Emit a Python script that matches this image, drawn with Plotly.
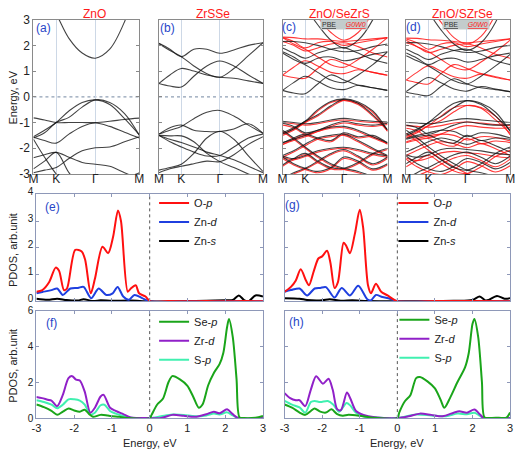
import plotly.graph_objects as go

W, H = 522, 455
FONT = "Liberation Sans, Arial, sans-serif"

# ---------------- band-structure data ----------------
k_path = [0, 0.105, 0.215, 0.335, 0.46, 0.585, 0.72, 0.86, 1.0]
k_ticks = [0, 0.215, 0.585, 1.0]
k_labels = ["M", "K", "Γ", "M"]
band_titles = ["ZnO", "ZrSSe", "ZnO/SeZrS", "ZnO/SZrSe"]
e_ticks = [-3, -2, -1, 0, 1, 2, 3]
e_tick_text = ["-3", "-2", "-1", "0", "1", "2", "3"]

zno_bands = [
    [4.8, 4.0, 3.22, 2.27, 1.7, 1.5, 1.85, 2.92, 4.7],
    [-1.55, -1.3, -1.0, -0.55, -0.22, -0.12, -0.3, -0.85, -1.48],
    [-1.6, -1.4, -1.0, -0.8, -0.4, -0.12, -0.22, -0.65, -1.5],
    [-0.82, -0.9, -1.0, -1.0, -1.0, -1.0, -0.95, -0.88, -0.83],
    [-1.57, -1.7, -1.8, -1.45, -1.15, -1.02, -1.15, -1.38, -1.6],
    [-2.95, -2.85, -2.75, -2.4, -2.1, -1.98, -1.95, -1.75, -1.55],
    [-2.37, -2.25, -2.16, -2.35, -2.55, -2.62, -2.7, -2.95, -3.2],
    [-1.65, -2.35, -3.0, -3.5, -3.8, -3.9, -3.8, -3.5, -3.0],
    [-2.8, -2.5, -2.16, -2.95, -3.5, -3.7, -3.5, -3.2, -2.95],
]

zrsse_bands = [
    [0.52, 0.42, 0.38, 0.8, 1.2, 1.39, 1.2, 0.85, 0.52],
    [0.52, 0.85, 1.1, 1.0, 0.85, 0.76, 0.72, 0.62, 0.52],
    [2.06, 1.8, 1.56, 1.2, 0.9, 0.76, 1.1, 1.6, 2.1],
    [2.08, 1.85, 1.56, 1.85, 1.85, 1.69, 1.82, 2.0, 2.1],
    [-1.45, -1.3, -1.15, -0.85, -0.6, -0.53, -0.75, -1.1, -1.42],
    [-1.45, -1.2, -1.1, -1.3, -1.35, -1.35, -1.25, -1.05, -1.42],
    [-1.5, -1.65, -1.78, -1.95, -2.15, -2.28, -2.45, -2.7, -2.95],
    [-2.95, -2.8, -2.7, -2.6, -2.5, -2.52, -2.25, -1.85, -1.55],
    [-1.5, -1.75, -1.95, -2.15, -2.3, -2.28, -1.95, -1.6, -1.45],
    [-1.5, -1.52, -1.52, -1.75, -2.2, -2.52, -2.75, -3.0, -3.2],
    [-2.85, -2.75, -2.62, -2.2, -1.6, -1.34, -1.65, -2.3, -2.9],
]

c_pbe_bands = [
    [0.25, 0.15, 0.12, 0.5, 0.85, 0.65, 0.45, 0.35, 0.25],
    [0.25, 0.55, 0.8, 0.6, 0.35, 0.28, 0.45, 0.35, 0.25],
    [1.7, 1.45, 1.25, 0.95, 0.65, 0.55, 0.85, 1.25, 1.75],
    [1.75, 1.55, 1.3, 1.5, 1.55, 1.4, 1.5, 1.65, 1.75],
    [5.0, 4.2, 3.5, 2.8, 2.2, 1.9, 2.2, 3.0, 4.4],
    [2.15, 2.15, 2.1, 2.0, 1.85, 1.75, 1.8, 1.95, 2.05],
    [1.9, 1.7, 1.5, 1.7, 1.85, 1.9, 1.7, 1.45, 1.3],
    [-1.4, -1.2, -0.95, -0.5, -0.18, -0.09, -0.25, -0.7, -1.28],
    [-1.45, -1.25, -0.95, -0.7, -0.35, -0.09, -0.2, -0.55, -1.3],
    [-0.95, -1.0, -1.05, -1.0, -0.9, -0.84, -0.9, -0.95, -0.98],
    [-1.03, -1.15, -1.4, -1.3, -1.1, -0.96, -1.05, -1.1, -1.03],
    [-1.78, -1.65, -1.5, -1.3, -1.18, -1.15, -1.3, -1.55, -1.78],
    [-1.8, -1.6, -1.45, -1.6, -1.7, -1.4, -1.55, -1.5, -1.8],
    [-2.28, -2.1, -1.84, -1.6, -1.5, -1.45, -1.7, -2.0, -2.28],
    [-2.3, -2.4, -2.28, -2.1, -2.0, -1.96, -2.05, -2.2, -2.3],
    [-2.34, -2.6, -2.78, -2.9, -2.75, -2.34, -2.5, -2.8, -2.6],
    [-2.65, -2.4, -2.2, -2.5, -2.75, -2.78, -2.55, -2.2, -2.0],
    [-1.3, -1.6, -1.95, -2.3, -2.6, -2.78, -2.9, -3.1, -3.2],
    [-3.2, -2.95, -2.78, -2.5, -2.2, -2.05, -2.3, -2.6, -2.34],
]

c_g0w0_bands = [
    [0.84, 0.75, 0.72, 1.1, 1.45, 1.3, 1.1, 0.95, 0.84],
    [0.84, 1.15, 1.4, 1.2, 0.95, 0.9, 1.05, 0.95, 0.84],
    [2.3, 2.05, 1.85, 1.55, 1.25, 1.15, 1.45, 1.85, 2.3],
    [2.3, 2.15, 1.9, 2.1, 2.15, 2.0, 2.1, 2.2, 2.3],
    [5.3, 4.5, 3.8, 3.1, 2.5, 2.2, 2.5, 3.3, 4.7],
    [2.32, 2.3, 2.25, 2.25, 2.2, 2.15, 2.2, 2.25, 2.3],
    [2.15, 2.0, 1.78, 1.9, 2.05, 2.1, 1.95, 1.7, 1.55],
    [-1.45, -1.25, -1.0, -0.55, -0.22, -0.14, -0.3, -0.75, -1.32],
    [-1.5, -1.3, -1.0, -0.75, -0.4, -0.14, -0.25, -0.6, -1.35],
    [-1.0, -1.05, -1.1, -1.05, -0.95, -0.9, -0.95, -1.0, -1.02],
    [-1.1, -1.2, -1.45, -1.35, -1.15, -1.02, -1.1, -1.15, -1.08],
    [-1.85, -1.7, -1.55, -1.35, -1.22, -1.2, -1.35, -1.6, -1.82],
    [-1.85, -1.65, -1.5, -1.65, -1.75, -1.45, -1.6, -1.55, -1.85],
    [-2.35, -2.15, -1.9, -1.65, -1.55, -1.5, -1.75, -2.05, -2.32],
    [-2.35, -2.45, -2.32, -2.15, -2.05, -2.0, -2.1, -2.25, -2.35],
    [-2.4, -2.65, -2.82, -2.95, -2.8, -2.4, -2.55, -2.85, -2.65],
    [-2.7, -2.45, -2.25, -2.55, -2.8, -2.82, -2.6, -2.25, -2.05],
    [-1.35, -1.65, -2.0, -2.35, -2.65, -2.82, -2.95, -3.15, -3.25],
    [-3.25, -3.0, -2.82, -2.55, -2.25, -2.1, -2.35, -2.65, -2.4],
]

d_pbe_bands = [
    [0.18, 0.1, 0.05, 0.4, 0.7, 0.5, 0.35, 0.28, 0.2],
    [0.2, 0.5, 0.75, 0.55, 0.3, 0.22, 0.4, 0.3, 0.2],
    [1.6, 1.4, 1.2, 0.9, 0.62, 0.5, 0.8, 1.2, 1.65],
    [1.7, 1.5, 1.25, 1.45, 1.5, 1.35, 1.45, 1.6, 1.7],
    [4.8, 4.0, 3.3, 2.6, 2.05, 1.8, 2.1, 2.9, 4.3],
    [2.1, 2.1, 2.05, 1.95, 1.8, 1.72, 1.78, 1.92, 2.0],
    [1.85, 1.65, 1.45, 1.65, 1.8, 1.85, 1.65, 1.4, 1.25],
    [-1.45, -1.25, -1.0, -0.6, -0.25, -0.15, -0.3, -0.75, -1.3],
    [-1.5, -1.3, -1.0, -0.78, -0.42, -0.15, -0.25, -0.6, -1.35],
    [-1.0, -1.02, -1.05, -1.0, -0.9, -0.85, -0.9, -0.95, -1.0],
    [-1.1, -1.2, -1.45, -1.3, -1.1, -0.98, -1.05, -1.1, -1.08],
    [-1.62, -1.5, -1.4, -1.3, -1.35, -1.55, -1.4, -1.45, -1.6],
    [-1.65, -1.55, -1.5, -1.7, -1.8, -1.5, -1.7, -1.6, -1.65],
    [-2.15, -1.95, -1.75, -1.6, -1.7, -1.85, -1.7, -1.9, -2.15],
    [-2.25, -2.35, -2.25, -2.05, -2.0, -2.05, -2.1, -2.2, -2.25],
    [-2.3, -2.6, -2.8, -2.9, -2.7, -2.4, -2.55, -2.8, -2.55],
    [-2.6, -2.35, -2.15, -2.45, -2.75, -2.85, -2.6, -2.2, -1.95],
    [-1.3, -1.6, -1.95, -2.3, -2.6, -2.85, -2.95, -3.1, -3.2],
    [-3.2, -2.95, -2.75, -2.5, -2.25, -2.15, -2.35, -2.6, -2.3],
]

d_g0w0_bands = [
    [0.65, 0.55, 0.5, 0.9, 1.25, 1.1, 0.9, 0.75, 0.65],
    [0.65, 0.95, 1.2, 1.0, 0.78, 0.72, 0.88, 0.78, 0.65],
    [2.2, 1.95, 1.75, 1.45, 1.15, 1.05, 1.35, 1.75, 2.2],
    [2.25, 2.1, 1.85, 2.05, 2.1, 1.95, 2.05, 2.15, 2.25],
    [5.1, 4.3, 3.6, 2.9, 2.3, 2.05, 2.35, 3.2, 4.6],
    [2.28, 2.27, 2.22, 2.2, 2.15, 2.1, 2.15, 2.2, 2.25],
    [2.1, 1.95, 1.72, 1.85, 2.0, 2.05, 1.9, 1.65, 1.5],
    [-1.55, -1.35, -1.12, -0.75, -0.42, -0.34, -0.45, -0.9, -1.42],
    [-1.6, -1.4, -1.12, -0.92, -0.58, -0.34, -0.42, -0.75, -1.48],
    [-1.12, -1.15, -1.18, -1.12, -1.02, -0.98, -1.02, -1.08, -1.12],
    [-1.22, -1.32, -1.58, -1.45, -1.25, -1.12, -1.18, -1.22, -1.2],
    [-1.75, -1.62, -1.52, -1.45, -1.5, -1.68, -1.55, -1.58, -1.72],
    [-1.78, -1.68, -1.62, -1.82, -1.92, -1.62, -1.82, -1.72, -1.78],
    [-2.28, -2.08, -1.88, -1.75, -1.82, -1.98, -1.82, -2.02, -2.28],
    [-2.38, -2.48, -2.38, -2.18, -2.12, -2.18, -2.22, -2.32, -2.38],
    [-2.42, -2.72, -2.92, -3.02, -2.82, -2.52, -2.68, -2.92, -2.68],
    [-2.72, -2.48, -2.28, -2.58, -2.88, -2.98, -2.72, -2.32, -2.08],
    [-1.42, -1.72, -2.08, -2.42, -2.72, -2.98, -3.08, -3.22, -3.32],
    [-3.32, -3.08, -2.88, -2.62, -2.38, -2.28, -2.48, -2.72, -2.42],
]

# ---------------- PDOS data ----------------
pdos_ticks = [-3, -2, -1, 0, 1, 2, 3]
pdos_tick_text = ["-3", "-2", "-1", "0", "1", "2", "3"]

e_op_x = [-3, -2.84, -2.66, -2.49, -2.4, -2.27, -2.19, -1.97, -1.8, -1.71, -1.56, -1.45, -1.25, -1.1, -0.97,
          -0.84, -0.76, -0.58, -0.5, -0.37, -0.28, -0.11, 0.02, 0.5, 1.0, 1.5, 2.0, 2.5, 3.0]
e_op_y = [0.36, 0.42, 0.72, 1.26, 1.14, 0.42, 0.48, 1.92, 1.86, 1.56, 0.3, 0.84, 2.04, 1.8, 2.4,
          3.39, 3.0, 0.36, 0.48, 0.6, 0.3, 0.18, 0.0, 0.01, 0.0, 0.01, 0.0, 0.01, 0.0]
e_znd_x = [-3, -2.84, -2.6, -2.45, -2.3, -2.1, -1.9, -1.75, -1.55, -1.35, -1.15, -0.98, -0.85, -0.7,
           -0.55, -0.4, -0.2, 0, 1, 2, 3]
e_znd_y = [0.3, 0.35, 0.42, 0.48, 0.24, 0.48, 0.5, 0.54, 0.12, 0.48, 0.24, 0.3, 0.54, 0.18,
           0.06, 0.24, 0.12, 0, 0, 0, 0]
e_zns_x = [-3, -2.7, -2.45, -2.2, -1.9, -1.75, -1.5, -1.3, -1.0, -0.5, 0, 1.0, 1.5, 2.0, 2.2, 2.36,
           2.5, 2.62, 2.8, 3.0]
e_zns_y = [0.1, 0.06, 0.1, 0.05, 0.03, 0.08, 0.01, 0.04, 0.02, 0.03, 0.0, 0.01, 0.02, 0.04, 0.05, 0.22,
           0.05, 0.0, 0.22, 0.18]

g_op_x = [-3, -2.83, -2.7, -2.57, -2.43, -2.35, -2.22, -2.1, -2.0, -1.87, -1.78, -1.67, -1.58, -1.43,
          -1.37, -1.26, -1.13, -1.0, -0.91, -0.78, -0.7, -0.57, -0.43, -0.26, -0.09, 0, 1, 2, 3]
g_op_y = [0.36, 0.54, 0.78, 1.2, 0.78, 0.6, 1.14, 1.6, 1.68, 1.89, 1.44, 0.5, 0.72, 2.19,
          2.1, 1.8, 2.52, 3.42, 2.76, 0.6, 0.3, 0.66, 0.36, 0.22, 0.06, 0, 0.01, 0.01, 0]
g_znd_x = [-3, -2.83, -2.6, -2.4, -2.2, -2.05, -1.9, -1.67, -1.48, -1.26, -1.04, -0.8, -0.7, -0.57,
           -0.4, -0.2, 0, 1, 2, 3]
g_znd_y = [0.36, 0.42, 0.48, 0.22, 0.48, 0.5, 0.53, 0.14, 0.5, 0.22, 0.58, 0.08, 0.04, 0.24,
           0.16, 0.1, 0, 0, 0, 0]
g_zns_x = [-3, -2.6, -2.4, -2.0, -1.8, -1.5, -1.2, -0.8, 0, 1.5, 2.0, 2.19, 2.35, 2.43, 2.65, 2.85, 3]
g_zns_y = [0.12, 0.1, 0.05, 0.04, 0.08, 0.02, 0.04, 0.01, 0, 0.02, 0.05, 0.18, 0.03, 0.05, 0.2, 0.1, 0.12]

f_sep_x = [-3, -2.8, -2.6, -2.45, -2.3, -2.15, -2.0, -1.85, -1.72, -1.6, -1.5, -1.3, -1.1, -0.8, -0.6,
           0.0, 0.05, 0.2, 0.35, 0.5, 0.6, 0.8, 1.0, 1.15, 1.3, 1.4, 1.55, 1.7, 1.85, 1.95, 2.05, 2.1,
           2.2, 2.3, 2.38, 2.5, 2.8, 3.0]
f_sep_y = [0.76, 0.61, 0.4, 0.18, 0.36, 0.54, 0.43, 0.36, 0.47, 0.22, 0.07, 0.18, 0.14, 0.07, 0.0,
           0.0, 0.18, 0.76, 1.08, 2.02, 2.35, 2.17, 1.81, 1.21, 0.58, 0.76, 1.84, 2.53, 3.02, 3.65, 5.1, 5.55,
           4.55, 2.2, 0.04, 0.0, 0.02, 0.12]
f_zrd_x = [-3, -2.85, -2.7, -2.6, -2.45, -2.3, -2.15, -2.05, -1.95, -1.85, -1.72, -1.57, -1.45, -1.3,
           -1.22, -1.05, -0.9, -0.7, -0.5, 0, 0.3, 0.6, 0.9, 1.2, 1.5, 1.7, 1.85, 2.05, 2.2, 2.35, 3]
f_zrd_y = [1.18, 1.12, 1.03, 0.98, 0.67, 1.3, 2.24, 2.35, 2.15, 2.11, 1.48, 0.3, 0.58, 1.21,
           1.3, 0.58, 0.4, 0.22, 0.04, 0, 0.0, 0.18, 0.13, 0.07, 0.22, 0.36, 0.27, 0.49, 0.22, 0, 0]
f_sp_x = [-3, -2.8, -2.6, -2.45, -2.3, -2.15, -2.0, -1.85, -1.72, -1.57, -1.45, -1.3, -1.2, -1.05, -0.9,
          -0.7, -0.5, 0, 0.3, 0.6, 0.9, 1.2, 1.5, 1.7, 1.85, 2.05, 2.2, 2.35, 3]
f_sp_y = [1.0, 0.9, 0.75, 0.55, 0.75, 1.05, 1.05, 0.98, 0.75, 0.2, 0.3, 0.72, 0.75, 0.4, 0.25,
          0.12, 0.02, 0, 0.1, 0.2, 0.18, 0.1, 0.15, 0.25, 0.2, 0.32, 0.15, 0, 0]

h_sep_x = [-3, -2.8, -2.6, -2.45, -2.3, -2.2, -2.05, -1.9, -1.75, -1.6, -1.45, -1.3, -1.0, -0.7, 0,
           0.05, 0.2, 0.35, 0.5, 0.6, 0.8, 1.0, 1.15, 1.25, 1.4, 1.6, 1.8, 1.9, 2.0, 2.05, 2.15, 2.25,
           2.32, 2.5, 2.7, 2.9, 3.0]
h_sep_y = [0.76, 0.58, 0.31, 0.18, 0.4, 0.54, 0.36, 0.31, 0.49, 0.22, 0.13, 0.18, 0.13, 0.04, 0,
           0.31, 0.94, 1.3, 2.24, 2.3, 2.06, 1.66, 1.03, 0.58, 1.12, 2.02, 2.84, 3.65, 5.28, 5.55, 4.55, 2.02,
           0.04, 0.01, 0.02, 0.02, 0.31]
h_zrd_x = [-3, -2.85, -2.7, -2.6, -2.45, -2.3, -2.16, -1.98, -1.83, -1.72, -1.6, -1.5, -1.34, -1.25,
           -1.1, -0.9, -0.6, 0, 0.3, 0.6, 0.9, 1.2, 1.5, 1.65, 1.85, 2.05, 2.2, 2.3, 3]
h_zrd_y = [1.4, 1.12, 1.0, 1.0, 0.67, 1.6, 2.35, 1.93, 2.2, 1.6, 0.5, 0.45, 1.43, 1.1,
           0.4, 0.18, 0.05, 0, 0.1, 0.25, 0.18, 0.1, 0.3, 0.38, 0.3, 0.48, 0.2, 0, 0]
h_sp_x = [-3, -2.8, -2.6, -2.45, -2.3, -2.2, -2.05, -1.85, -1.7, -1.55, -1.35, -1.25, -1.1, -0.9, -0.6,
          0, 0.5, 0.9, 1.3, 1.6, 1.85, 2.05, 2.2, 2.3, 3]
h_sp_y = [0.96, 0.75, 0.6, 0.3, 0.9, 0.96, 0.9, 0.96, 0.75, 0.35, 0.85, 0.7, 0.3, 0.1, 0.03,
          0, 0.2, 0.15, 0.1, 0.25, 0.22, 0.3, 0.12, 0, 0]

# ---------------- figure ----------------
fig = go.Figure()


def xd(a, b):
    return [a / W, b / W]


def yd(a, b):
    return [1 - b / H, 1 - a / H]


band_x = [(29, 137), (157, 263), (283, 390), (409, 515)]
band_y = (11, 171)
pdos_x = [(32, 263), (285, 515)]
pdos_y = [(192, 303), (313, 424)]

BLACK = "rgba(20,20,20,0.8)"
RED = "rgba(255,20,20,0.85)"
FRAME = "#8a8a8a"
PFRAME = "#8e98b8"

layout = dict(
    width=W, height=H, margin=dict(l=0, r=0, t=0, b=0),
    paper_bgcolor="white", plot_bgcolor="white",
    font=dict(family=FONT, size=11, color="#222"),
    showlegend=True,
)

# band axes 1..4
for i in range(4):
    n = i + 1
    xa = "xaxis" if n == 1 else f"xaxis{n}"
    ya = "yaxis" if n == 1 else f"yaxis{n}"
    layout[xa] = dict(domain=xd(*band_x[i]), anchor=f"y{'' if n == 1 else n}", range=[0, 1],
                      tickvals=k_ticks, ticktext=k_labels, ticks="", showgrid=True,
                      gridcolor="#cdd8e6", gridwidth=1, showline=True, mirror=True,
                      linecolor=FRAME, linewidth=1, zeroline=False, ticklabeloverflow="allow",
                      ticklabelstandoff=-6, tickfont=dict(size=12, color="#222"))
    layout[ya] = dict(domain=yd(*band_y), anchor=f"x{'' if n == 1 else n}", range=[-3, 3],
                      tickvals=e_ticks, ticktext=e_tick_text, showticklabels=(n == 1),
                      ticks="inside", ticklen=3, tickcolor=FRAME, showgrid=False,
                      showline=True, mirror="ticks", linecolor=FRAME, linewidth=1, zeroline=False,
                      tickfont=dict(size=12, color="#222"))

# pdos axes 5..8 : e, g, f, h
pdos_slots = [(0, 0, 4), (1, 0, 4), (0, 1, 6), (1, 1, 6)]
for j, (cx, ry, ymax) in enumerate(pdos_slots):
    n = j + 5
    bottom = ry == 1
    layout[f"xaxis{n}"] = dict(domain=xd(*pdos_x[cx]), anchor=f"y{n}", range=[-3, 3],
                               tickvals=pdos_ticks, ticktext=pdos_tick_text, showticklabels=bottom,
                               ticks="inside", ticklen=3, tickcolor=PFRAME, showgrid=False,
                               showline=True, mirror="ticks", linecolor=PFRAME, linewidth=1,
                               zeroline=False, ticklabeloverflow="allow", ticklabelstandoff=0,
                               tickfont=dict(size=11, color="#222"))
    layout[f"yaxis{n}"] = dict(domain=yd(*pdos_y[ry]), anchor=f"x{n}", range=[0, ymax],
                               dtick=1 if ymax == 4 else 2, showticklabels=(cx == 0),
                               ticks="inside", ticklen=3, tickcolor=PFRAME, showgrid=False,
                               showline=True, mirror="ticks", linecolor=PFRAME, linewidth=1,
                               zeroline=False, ticklabelshift=(-3 if ry == 0 else 0),
                               tickfont=dict(size=10, color="#222"))

fig.update_layout(**layout)


def add_bands(bands, color, n):
    ax = "" if n == 1 else str(n)
    for b in bands:
        fig.add_trace(go.Scatter(x=k_path, y=b, mode="lines", line=dict(color=color, width=1.1,
                                 shape="spline", smoothing=1.0), xaxis=f"x{ax}", yaxis=f"y{ax}",
                                 showlegend=False, hoverinfo="skip"))


add_bands(zno_bands, BLACK, 1)
add_bands(zrsse_bands, BLACK, 2)
add_bands(c_g0w0_bands, RED, 3)
add_bands(c_pbe_bands, BLACK, 3)
add_bands(d_g0w0_bands, RED, 4)
add_bands(d_pbe_bands, BLACK, 4)


def add_pdos(x, y, name, color, n, legend):
    fig.add_trace(go.Scatter(x=x, y=y, mode="lines", name=name,
                             line=dict(color=color, width=2, shape="spline", smoothing=0.8),
                             xaxis=f"x{n}", yaxis=f"y{n}", legend=legend, hoverinfo="skip"))


RED_P, BLUE_P, BLACK_P = "#ff1010", "#1f3fdf", "#000000"
GREEN_P, PURPLE_P, AQUA_P = "#1aa51a", "#9020c8", "#40f0b0"

add_pdos(e_zns_x, e_zns_y, "Zn-<i>s</i>", BLACK_P, 5, "legend")
add_pdos(e_znd_x, e_znd_y, "Zn-<i>d</i>", BLUE_P, 5, "legend")
add_pdos(e_op_x, e_op_y, "O-<i>p</i>", RED_P, 5, "legend")
add_pdos(g_zns_x, g_zns_y, "Zn-<i>s</i>", BLACK_P, 6, "legend2")
add_pdos(g_znd_x, g_znd_y, "Zn-<i>d</i>", BLUE_P, 6, "legend2")
add_pdos(g_op_x, g_op_y, "O-<i>p</i>", RED_P, 6, "legend2")
add_pdos(f_sp_x, f_sp_y, "S-<i>p</i>", AQUA_P, 7, "legend3")
add_pdos(f_zrd_x, f_zrd_y, "Zr-<i>d</i>", PURPLE_P, 7, "legend3")
add_pdos(f_sep_x, f_sep_y, "Se-<i>p</i>", GREEN_P, 7, "legend3")
add_pdos(h_sp_x, h_sp_y, "S-<i>p</i>", AQUA_P, 8, "legend4")
add_pdos(h_zrd_x, h_zrd_y, "Zr-<i>d</i>", PURPLE_P, 8, "legend4")
add_pdos(h_sep_x, h_sep_y, "Se-<i>p</i>", GREEN_P, 8, "legend4")

leg_common = dict(bgcolor="rgba(0,0,0,0)", font=dict(size=11, color="#222"), tracegroupgap=0,
                  itemwidth=30, traceorder="reversed", xanchor="left", yanchor="top")
fig.update_layout(
    legend=dict(x=152 / W, y=1 - 186 / H, **leg_common),
    legend2=dict(x=396 / W, y=1 - 186 / H, **leg_common),
    legend3=dict(x=152 / W, y=1 - 309 / H, **leg_common),
    legend4=dict(x=397 / W, y=1 - 307 / H, **leg_common),
)

shapes = []
for n in range(1, 5):
    ax = "" if n == 1 else str(n)
    shapes.append(dict(type="line", xref=f"x{ax} domain", x0=0, x1=1, yref=f"y{ax}", y0=0, y1=0,
                       line=dict(color="#8f9fb4", width=1.2, dash="dot"), layer="below"))
for n in range(5, 9):
    shapes.append(dict(type="line", xref=f"x{n}", x0=0, x1=0, yref=f"y{n} domain", y0=0, y1=1,
                       line=dict(color="#555", width=1, dash="dot"), layer="below"))
fig.update_layout(shapes=shapes)

ann = []
title_cx = [91, 212, 341, 466]
for t, cx in zip(band_titles, title_cx):
    ann.append(dict(x=cx / W, y=1 - 5 / H, xref="paper", yref="paper", text=t, showarrow=False,
                    font=dict(size=12, color="#ff1a1a"), xanchor="center", yanchor="middle"))
panel_labels = [("(a)", 39, 20), ("(b)", 166, 20), ("(c)", 290, 19), ("(d)", 416, 19),
                ("(e)", 48, 205), ("(g)", 293, 203), ("(f)", 47, 325), ("(h)", 297, 324)]
for t, px, py in panel_labels:
    ann.append(dict(x=px / W, y=1 - py / H, xref="paper", yref="paper", text=t, showarrow=False,
                    font=dict(size=12, color="#2846c8"), xanchor="center", yanchor="middle"))
for t, px, py in [("Energy, eV", 8, 92), ("PDOS, arb.unit", 8, 250), ("PDOS, arb.unit", 8, 370)]:
    ann.append(dict(x=px / W, y=1 - py / H, xref="paper", yref="paper", text=t, showarrow=False,
                    textangle=-90, font=dict(size=11, color="#222"), xanchor="center", yanchor="middle"))
for px in (148, 400):
    ann.append(dict(x=px / W, y=1 - 450 / H, xref="paper", yref="paper", text="Energy, eV",
                    showarrow=False, font=dict(size=11, color="#222"), xanchor="center",
                    yanchor="middle"))
for px in (346, 470):
    ann.append(dict(x=px / W, y=1 - 16 / H, xref="paper", yref="paper",
                    text='<u>PBE</u>     <span style="color:#ff2020"><i><u>G0W0</u></i></span>',
                    showarrow=False, bgcolor="#c3cccc", borderpad=1,
                    font=dict(size=7, color="#333"), xanchor="center", yanchor="middle"))
fig.update_layout(annotations=ann)

fig.write_html("out.html", config={"displayModeBar": False, "staticPlot": True},
               post_script="document.body.style.margin='0';document.body.style.overflow='hidden';")
